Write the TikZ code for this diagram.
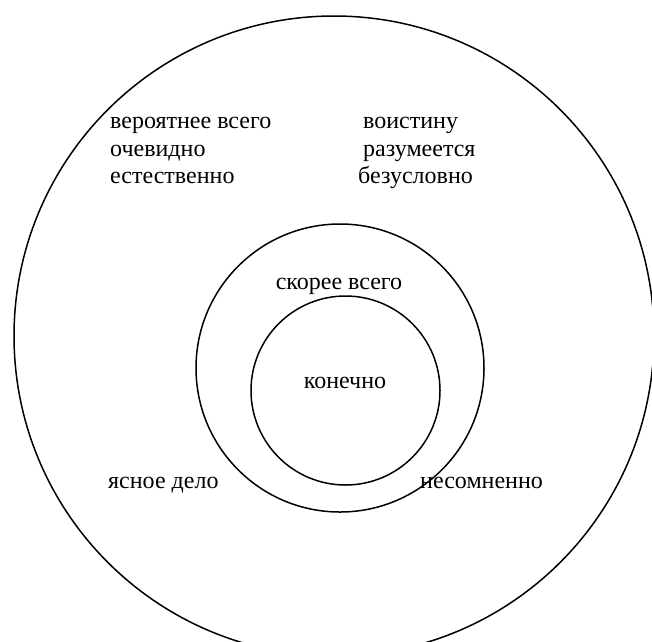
\documentclass[tikz,border=0pt]{standalone}
\usepackage{fontspec}
\setmainfont{Liberation Serif}
\usepackage{tikz}

\begin{document}
\begin{tikzpicture}
  [
    x=1pt,y=-1pt,
    word/.style={anchor=base west,inner sep=0pt,font=\fontsize{24}{28}\selectfont},
    cword/.style={word,anchor=base},
    ring/.style={draw,line width=1.5pt}
  ]
  \useasboundingbox (0,0) rectangle (652,641);
  \clip (0,0) rectangle (652,641);
  % rings
  \draw [ring] (334,336) circle (320pt);
  \draw [ring] (340,368) circle (144pt);
  \draw [ring] (345.5,390.5) circle (94.5pt);
  % outer ring, left column
  \node [word] (veroyatnee) at (110,128) {вероятнее всего};
  \node [word] (ochevidno) at (110,156) {очевидно};
  \node [word] (estestvenno) at (110,183) {естественно};
  % outer ring, right column
  \node [word] (voistinu) at (363,128) {воистину};
  \node [word] (razumeetsya) at (363,156) {разумеется};
  \node [word] (bezuslovno) at (358,183) {безусловно};
  % middle and inner ring
  \node [cword] (skoree) at (339,289) {скорее всего};
  \node [cword] (konechno) at (345,388) {конечно};
  % bottom row
  \node [word] (yasnoe) at (108,488) {ясное дело};
  \node [word] (nesomnenno) at (420,488) {несомненно};
\end{tikzpicture}
\end{document}
